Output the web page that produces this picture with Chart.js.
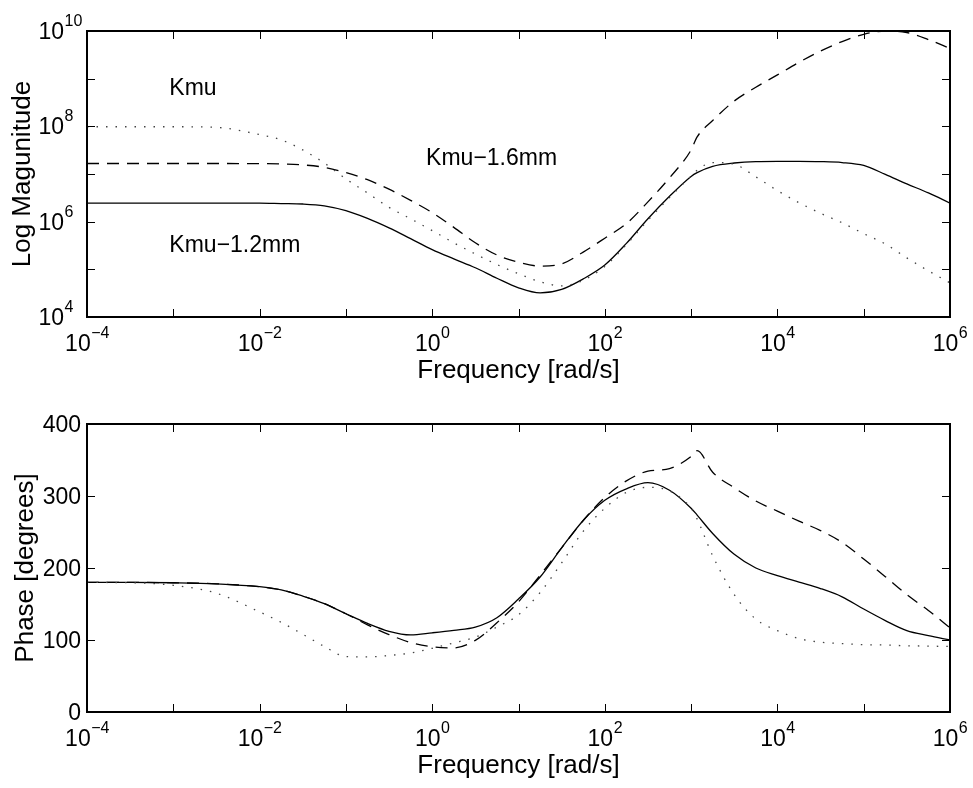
<!DOCTYPE html>
<html>
<head>
<meta charset="utf-8">
<title>Kmu frequency response</title>
<script src="https://cdn.jsdelivr.net/npm/chart.js@4.4.1/dist/chart.umd.min.js"></script>
<style>
  html, body { margin: 0; padding: 0; background: #fff; }
  #wrap { position: relative; width: 973px; height: 788px; }
  #wrap canvas { position: absolute; left: 0; }
  #mag { top: 0; }
  #phase { top: 394px; }
</style>
</head>
<body>
<div id="wrap">
  <canvas id="mag" width="973" height="394"></canvas>
  <canvas id="phase" width="973" height="394"></canvas>
</div>
<script>
// Frequency grid [rad/s]
const freq = [1e-4, 3.16e-4, 1e-3, 3.16e-3, 1e-2, 1.78e-2, 3.16e-2, 5.62e-2,
  0.1, 0.178, 0.316, 0.562, 1, 1.78, 3.16, 5.62, 10, 17.8, 31.6, 56.2,
  100, 178, 316, 562, 1000, 1175, 1778, 3162, 5623, 1e4, 1.78e4, 3.16e4,
  5.62e4, 1e5, 1.78e5, 3.16e5, 5.62e5, 1e6];

// Magnitude
const magKmu = [9.8e7, 9.8e7, 9.8e7, 9.5e7, 6.7e7, 5.2e7, 3.2e7, 1.7e7,
  7.9e6, 4.0e6, 2.0e6, 1.15e6, 6.5e5, 3.6e5, 2.1e5, 1.26e5, 8.1e4, 5.5e4,
  4.5e4, 5.9e4, 1.15e5, 3.3e5, 1.07e6, 3.2e6, 9.1e6, 1.2e7, 1.74e7, 1.6e7,
  8.7e6, 4.5e6, 2.5e6, 1.5e6, 9.5e5, 5.6e5, 3.4e5, 1.74e5, 9.3e4, 5.2e4];
const magKmu16 = [1.66e7, 1.66e7, 1.66e7, 1.66e7, 1.65e7, 1.62e7, 1.55e7, 1.38e7,
  1.07e7, 7.6e6, 4.8e6, 2.8e6, 1.55e6, 7.6e5, 3.6e5, 2.0e5, 1.41e5, 1.17e5,
  1.3e5, 2.3e5, 4.5e5, 9.1e5, 2.6e6, 8.3e6, 3.2e7, 6.0e7, 1.32e8, 3.4e8,
  6.6e8, 1.2e9, 2.2e9, 3.8e9, 6.0e9, 8.5e9, 1.0e10, 9.3e9, 6.6e9, 4.3e9];
const magKmu12 = [2.45e6, 2.45e6, 2.45e6, 2.45e6, 2.45e6, 2.4e6, 2.35e6, 2.15e6,
  1.7e6, 1.17e6, 7.4e5, 4.4e5, 2.6e5, 1.66e5, 1.08e5, 6.5e4, 4.1e4, 3.2e4,
  3.8e4, 6.3e4, 1.23e5, 3.5e5, 1.15e6, 3.4e6, 8.9e6, 1.07e7, 1.45e7, 1.7e7,
  1.82e7, 1.84e7, 1.84e7, 1.82e7, 1.74e7, 1.51e7, 9.8e6, 6.2e6, 4.0e6, 2.45e6];

// Phase [degrees]
const phaseKmu = [180, 179.5, 176, 165, 139, 124.5, 108, 91,
  77, 76.5, 78.5, 82, 88.5, 96, 104, 118, 135, 166,
  207, 251, 283, 305, 312, 307, 283, 268, 217, 163,
  129, 113, 102, 97, 95, 93.5, 93, 92, 91.5, 91];
const phaseKmu16 = [180, 180, 179.5, 178, 174, 169.5, 161, 150.5,
  136.5, 121, 107.5, 96.5, 90.5, 89, 99.5, 124, 153, 190,
  228, 266, 298, 321, 334.5, 338, 355, 363, 333, 311.5,
  293, 279, 265, 252, 235.5, 212.5, 188, 163, 141, 117];
const phaseKmu12 = [180, 180, 179.5, 178, 174, 169.5, 161, 150.5,
  136.5, 123, 112, 107, 110, 113.5, 118, 131, 157, 187.5,
  228, 266, 294, 310, 318.5, 308, 283, 273.5, 248, 219,
  200, 189.5, 180.5, 171.5, 160, 143, 127, 113, 106, 100];

// Axis ticks
const freqTickExps = [-4, -3, -2, -1, 0, 1, 2, 3, 4, 5, 6];
const freqLabelExps = [-4, -2, 0, 2, 4, 6];
const magTickExps = [4, 5, 6, 7, 8, 9, 10];
const magLabelExps = [4, 6, 8, 10];
const phaseTicks = [0, 100, 200, 300, 400];

// Curve labels placed in data coordinates
const noteText = ['Kmu', 'Kmu\u22121.6mm', 'Kmu\u22121.2mm'];
const noteFreq = [9e-4, 0.85, 9e-4];
const noteMag = [4.5e8, 1.55e7, 2.3e5];

const FAMILY = '"Liberation Sans", Arial, Helvetica, sans-serif';
const TICK_FONT = '23px ' + FAMILY;
const EXP_FONT = '16px ' + FAMILY;
const TITLE_FONT = '26px ' + FAMILY;
const NOTE_FONT = '23px ' + FAMILY;

function expText(e) {
  return e < 0 ? '\u2212' + Math.abs(e) : String(e);
}

function pairs(xs, ys) {
  return xs.map((f, i) => ({ x: f, y: ys[i] }));
}

// Draws "10" with a raised exponent. mode 'center' centres the whole label on x;
// mode 'left' puts the base's right edge at x.
function drawPow(ctx, x, baseline, e, mode) {
  const ex = expText(e);
  ctx.font = TICK_FONT;
  const wb = ctx.measureText('10').width;
  ctx.font = EXP_FONT;
  const we = ctx.measureText(ex).width;
  let start = mode === 'center' ? x - (wb + we) / 2 : x - wb;
  ctx.textAlign = 'left';
  ctx.textBaseline = 'alphabetic';
  ctx.font = TICK_FONT;
  ctx.fillText('10', start, baseline);
  ctx.font = EXP_FONT;
  ctx.fillText(ex, start + wb + 0.5, baseline - 13);
}

const frameAxes = {
  id: 'frameAxes',
  afterDatasetsDraw(chart, args, opts) {
    const { ctx, chartArea: a, scales } = chart;
    const xs = scales.x, ys = scales.y;
    const TL = 8;
    ctx.save();
    ctx.fillStyle = '#000';
    ctx.strokeStyle = '#000';
    // inward ticks on all four sides
    ctx.lineWidth = 1;
    ctx.beginPath();
    for (const e of freqTickExps) {
      const px = Math.round(xs.getPixelForValue(Math.pow(10, e))) + 0.5;
      ctx.moveTo(px, a.top); ctx.lineTo(px, a.top + TL);
      ctx.moveTo(px, a.bottom); ctx.lineTo(px, a.bottom - TL);
    }
    for (const v of opts.yTicks) {
      const py = Math.round(ys.getPixelForValue(v)) + 0.5;
      ctx.moveTo(a.left, py); ctx.lineTo(a.left + TL, py);
      ctx.moveTo(a.right, py); ctx.lineTo(a.right - TL, py);
    }
    ctx.stroke();
    // box
    ctx.lineWidth = 2;
    ctx.strokeRect(Math.round(a.left), Math.round(a.top),
      Math.round(a.right - a.left), Math.round(a.bottom - a.top));
    // frequency tick labels
    for (const e of freqLabelExps) {
      drawPow(ctx, xs.getPixelForValue(Math.pow(10, e)), a.bottom + 34, e, 'center');
    }
    // y tick labels
    if (opts.logY) {
      for (const e of magLabelExps) {
        drawPow(ctx, a.left - 23, ys.getPixelForValue(Math.pow(10, e)) + 8, e, 'left');
      }
    } else {
      ctx.font = TICK_FONT;
      ctx.textAlign = 'right';
      ctx.textBaseline = 'alphabetic';
      for (const v of phaseTicks) {
        ctx.fillText(String(v), a.left - 6, ys.getPixelForValue(v) + 8);
      }
    }
    // axis titles
    ctx.font = TITLE_FONT;
    ctx.textAlign = 'center';
    ctx.textBaseline = 'alphabetic';
    ctx.fillText('Frequency [rad/s]', (a.left + a.right) / 2, a.bottom + 61);
    ctx.save();
    ctx.translate(opts.yTitleX, (a.top + a.bottom) / 2);
    ctx.rotate(-Math.PI / 2);
    ctx.fillText(opts.yTitle, 0, 0);
    ctx.restore();
    // curve labels
    if (opts.notes) {
      ctx.font = NOTE_FONT;
      ctx.textAlign = 'left';
      noteText.forEach((t, i) => {
        ctx.fillText(t, xs.getPixelForValue(noteFreq[i]), ys.getPixelForValue(noteMag[i]));
      });
    }
    ctx.restore();
  }
};

const solidStyle = { borderColor: '#000', borderWidth: 1.3 };
const dashedStyle = { borderColor: '#000', borderWidth: 1.3, borderDash: [12, 8] };
const dottedStyle = { borderColor: '#444', borderWidth: 1.3, borderDash: [1.5, 8] };

function makeChart(id, sets, yScale, padding, pluginOpts) {
  return new Chart(document.getElementById(id), {
    type: 'line',
    data: {
      datasets: sets.map(s => Object.assign({
        data: s.data, label: s.label, fill: false, pointRadius: 0,
        cubicInterpolationMode: 'monotone'
      }, s.style))
    },
    options: {
      responsive: false,
      animation: false,
      devicePixelRatio: 1,
      layout: { padding },
      plugins: { legend: { display: false }, tooltip: { enabled: false }, frameAxes: pluginOpts },
      scales: {
        x: { type: 'logarithmic', min: 1e-4, max: 1e6, display: false },
        y: Object.assign({ display: false }, yScale)
      }
    },
    plugins: [frameAxes]
  });
}

makeChart('mag', [
  { label: 'Kmu', data: pairs(freq, magKmu), style: dottedStyle },
  { label: 'Kmu\u22121.6mm', data: pairs(freq, magKmu16), style: dashedStyle },
  { label: 'Kmu\u22121.2mm', data: pairs(freq, magKmu12), style: solidStyle }
], { type: 'logarithmic', min: 1e4, max: 1e10 },
  { left: 87, right: 23, top: 31, bottom: 77 },
  { logY: true, yTicks: magTickExps.map(e => Math.pow(10, e)), yTitle: 'Log Magunitude', yTitleX: 30, notes: true });

makeChart('phase', [
  { label: 'Kmu', data: pairs(freq, phaseKmu), style: dottedStyle },
  { label: 'Kmu\u22121.6mm', data: pairs(freq, phaseKmu16), style: dashedStyle },
  { label: 'Kmu\u22121.2mm', data: pairs(freq, phaseKmu12), style: solidStyle }
], { type: 'linear', min: 0, max: 400 },
  { left: 87, right: 23, top: 30, bottom: 76 },
  { logY: false, yTicks: phaseTicks, yTitle: 'Phase [degrees]', yTitleX: 33, notes: false });
</script>
</body>
</html>
